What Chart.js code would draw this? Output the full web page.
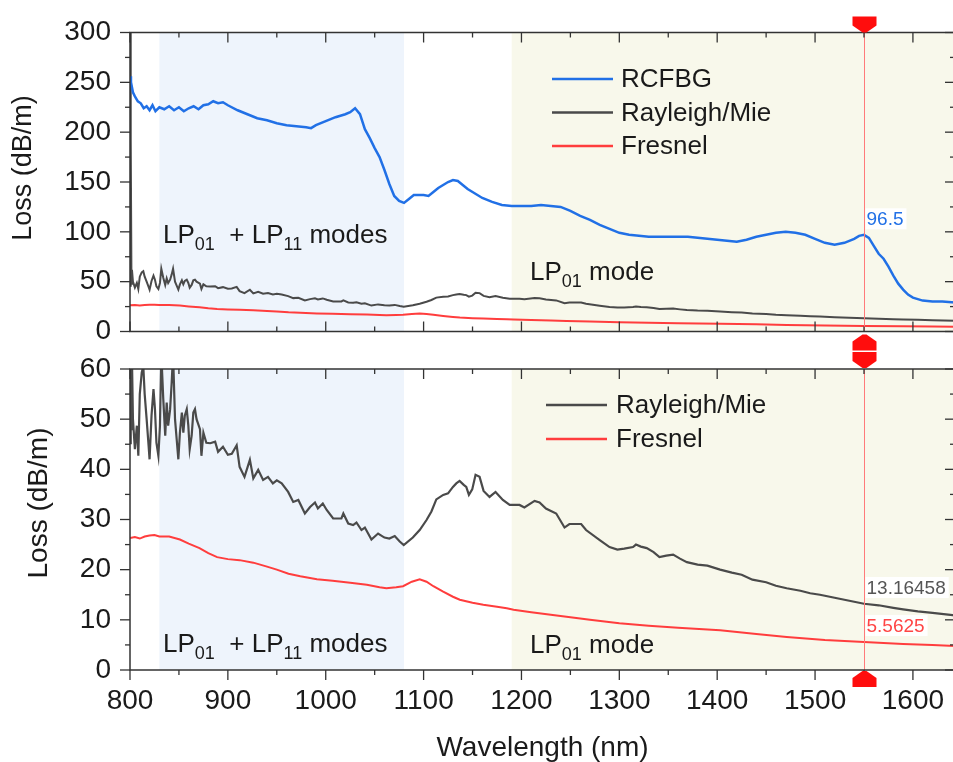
<!DOCTYPE html>
<html>
<head>
<meta charset="utf-8">
<script src="https://cdn.jsdelivr.net/npm/chart.js@4.4.1/dist/chart.umd.min.js"></script>
<style>
  html, body { margin: 0; padding: 0; background: #fff; width: 953px; height: 762px; overflow: hidden; }
  .panel { position: absolute; left: 0; width: 960px; }
  #topPanel { top: 0; height: 352px; }
  #bottomPanel { top: 345px; height: 417px; }
</style>
</head>
<body>
<div class="panel" id="topPanel"><canvas id="lossTop"></canvas></div>
<div class="panel" id="bottomPanel"><canvas id="lossBottom"></canvas></div>
<script>
// --- data ---
const xMin = 800, xMax = 1643;
const cursorNm = 1550;
const shadeFrom = [830, 1190];
const shadeTo = [1080, 1643];
const readoutLoss = [96.5, 13.16458, 5.5625];

const rcfbgNm = [800, 801, 803, 805, 808, 811, 814, 817, 820, 823,
  826, 830, 835, 840, 845, 850, 855, 860, 865, 870,
  875, 880, 885, 890, 895, 900, 910, 920, 930, 940,
  950, 960, 970, 980, 985, 990, 1000, 1010, 1020, 1025,
  1030, 1035, 1040, 1045, 1050, 1055, 1060, 1065, 1070, 1075,
  1080, 1085, 1090, 1095, 1100, 1105, 1110, 1115, 1120, 1125,
  1130, 1135, 1140, 1145, 1150, 1160, 1170, 1180, 1190, 1200,
  1210, 1220, 1230, 1240, 1250, 1260, 1270, 1280, 1290, 1300,
  1310, 1320, 1330, 1340, 1350, 1360, 1370, 1380, 1390, 1400,
  1410, 1420, 1430, 1440, 1450, 1460, 1470, 1480, 1490, 1500,
  1510, 1520, 1530, 1540, 1545, 1550, 1555, 1560, 1565, 1570,
  1575, 1580, 1585, 1590, 1595, 1600, 1610, 1620, 1630, 1643];
const rcfbgLoss = [256, 250, 240, 236, 231, 229, 224, 226, 222, 227,
  221, 225, 223, 226, 222, 225, 221, 224, 226, 223,
  227, 228, 231, 229, 230, 227, 222, 218, 214, 212,
  209, 207, 206, 205, 204, 207, 211, 215, 218, 220,
  224, 218, 203, 194, 184, 175, 162, 148, 136, 131,
  129, 133, 137, 137, 137, 136, 140, 144, 147, 150,
  152, 151, 147, 143, 140, 134, 130, 127, 126, 126,
  126, 127, 126, 125, 121, 116, 112, 107, 103, 99,
  97, 96, 95, 95, 95, 95, 95, 94, 93, 92,
  91, 90, 92, 95, 97, 99, 100, 99, 97, 93,
  89, 87, 89, 93, 96, 97, 94, 86, 78, 73,
  65, 56, 48, 42, 37, 34, 31, 30, 30, 29];

const rayleighNm = [800, 800.5, 801, 801.5, 802, 803, 805, 807, 808.5, 810,
  812, 813.6, 815, 817, 819, 820, 822, 824, 825.5, 827,
  829, 830.6, 832, 834, 836, 837.5, 839, 841, 842.6, 844,
  846, 847.7, 849.4, 851, 853, 854.5, 856, 858, 859.6, 861,
  863, 864.7, 866.4, 868, 871.5, 873, 875, 878, 882, 887,
  890, 895, 900, 904, 909, 912, 917, 922.5, 926, 931,
  936, 941, 946, 950, 955, 961.6, 966.8, 972, 978.7, 984,
  989, 992, 997, 1001, 1007.6, 1016, 1018, 1023, 1028, 1031.4,
  1036.5, 1040, 1046.7, 1053.5, 1060, 1065, 1070.5, 1075.6, 1079.7, 1089,
  1096, 1103, 1108, 1113, 1120, 1125, 1130, 1133.4, 1136.8, 1141,
  1143.6, 1146.3, 1149.7, 1153.1, 1157.2, 1161.3, 1167.4, 1173.5, 1181, 1188,
  1198, 1203, 1213.4, 1218.5, 1225, 1235.5, 1244, 1249, 1261, 1266,
  1280, 1290, 1298, 1305, 1314, 1317, 1322, 1328, 1335, 1341,
  1348, 1355, 1362, 1369, 1380, 1390, 1403, 1415, 1425, 1436,
  1450, 1460, 1471, 1485, 1495, 1505, 1520, 1535, 1550, 1565,
  1580, 1590, 1605, 1620, 1643];
const rayleighLoss = [320, 45, 192, 48, 62, 50, 44, 48.7, 42.7, 55,
  59.3, 60.5, 55, 50, 44.7, 42, 50.7, 56, 52, 45.3,
  42.7, 48.7, 63, 54, 46.7, 53.3, 48.7, 52, 57.3, 63,
  50, 46, 42, 47.3, 51.3, 47.3, 50.7, 52, 48.7, 44,
  46.7, 51.3, 52, 50, 48, 42.7, 47.3, 45.3, 45.2, 45.5,
  43.5, 44.5, 42.9, 43.1, 44.8, 40.5, 38.5, 41.9, 38.2, 39.9,
  37.9, 38.5, 37.2, 37.8, 37.2, 35.5, 33.5, 33.9, 31.2, 32.5,
  33.4, 32.2, 33.2, 31.9, 30.2, 30.2, 31.2, 29.2, 28.9, 29.4,
  27.9, 28.4, 26.0, 27.2, 26.4, 26.2, 26.7, 25.6, 24.9, 26.4,
  27.9, 29.9, 31.6, 34.0, 34.9, 35.2, 36.5, 37.2, 37.7, 36.9,
  36.5, 34.9, 36.0, 38.9, 38.5, 35.7, 34.5, 35.5, 33.9, 32.9,
  32.9, 32.4, 33.7, 33.4, 32.2, 31.2, 28.4, 29.1, 29.1, 27.9,
  25.9, 24.5, 24.0, 24.2, 24.5, 25, 24.6, 24.3, 23.5, 22.5,
  22.8, 23, 22.2, 21.5, 21, 20.8, 20, 19.4, 19, 18,
  17.5, 16.8, 16.3, 15.8, 15.3, 15, 14.4, 13.8, 13.2, 12.9,
  12.4, 12.1, 11.7, 11.4, 10.9];

const fresnelNm = [800, 805, 810, 815, 820, 825, 830, 840, 851, 860,
  871, 880, 889, 900, 912, 926, 940, 950, 962, 974,
  991, 1007, 1025, 1042, 1055, 1062, 1072, 1079, 1088, 1096,
  1103, 1110, 1120, 1130, 1137, 1150, 1161, 1175, 1185, 1192,
  1210, 1230, 1246, 1270, 1300, 1330, 1360, 1403, 1440, 1471,
  1510, 1550, 1590, 1620, 1643];
const fresnelLoss = [26.3, 26.5, 26.2, 26.6, 26.8, 26.9, 26.6, 26.6, 26, 25.2,
  24.3, 23.3, 22.5, 22.1, 21.9, 21.4, 20.6, 20, 19.2, 18.7,
  18.1, 17.8, 17.4, 17, 16.5, 16.3, 16.5, 16.7, 17.6, 18.1,
  17.6, 16.7, 15.6, 14.6, 14, 13.4, 13, 12.6, 12.3, 12,
  11.5, 11, 10.6, 10, 9.3, 8.8, 8.4, 7.9, 7.2, 6.6,
  6, 5.56, 5.2, 5, 4.8];

// --- styling ---
const FONT = '"Liberation Sans", Arial, sans-serif';
const INK = '#1a1a1a';
const AXIS = '#333333';
const BLUE = '#2170e6';
const GRAY = '#4a4a4a';
const RED = '#ff3d3d';
const shadeColors = ['#eef4fc', '#f8f8eb'];

Chart.defaults.font.family = FONT;
Chart.defaults.color = INK;

const pts = (xs, ys) => xs.map((x, i) => ({x: x, y: ys[i]}));
const line = (label, xs, ys, color, w) => ({
  label: label, data: pts(xs, ys), borderColor: color, backgroundColor: color,
  borderWidth: w, pointRadius: 0, tension: 0, fill: false
});

function drawMarker(ctx, cx, tipY, pointDown) {
  const s = pointDown ? -1 : 1;
  ctx.beginPath();
  ctx.moveTo(cx - 2, tipY);
  ctx.lineTo(cx + 2, tipY);
  ctx.lineTo(cx + 12, tipY + s * 7);
  ctx.lineTo(cx + 12, tipY + s * 16);
  ctx.lineTo(cx - 12, tipY + s * 16);
  ctx.lineTo(cx - 12, tipY + s * 7);
  ctx.closePath();
  ctx.fill();
}

function drawNote(ctx, note) {
  let x = note.x;
  ctx.textAlign = 'left';
  ctx.textBaseline = 'alphabetic';
  ctx.fillStyle = INK;
  note.parts.forEach(p => {
    const sub = p[1];
    ctx.font = (sub ? '18px ' : '26px ') + FONT;
    ctx.fillText(p[0], x, note.y + (sub ? 7 : 0));
    x += ctx.measureText(p[0]).width;
  });
}

function tickSide(ctx, scale, a, edge, dir, minor, major) {
  const start = Math.ceil(scale.min / minor) * minor;
  for (let v = start; v <= scale.max + 1e-6; v += minor) {
    const len = (Math.abs(v % major) < 1e-6) ? 10 : 5;
    const p = scale.getPixelForValue(v);
    ctx.beginPath();
    if (edge === 'top' || edge === 'bottom') {
      const y0 = edge === 'top' ? a.top : a.bottom;
      const sgn = (edge === 'top') === (dir === 'in') ? 1 : -1;
      ctx.moveTo(p, y0); ctx.lineTo(p, y0 + sgn * len);
    } else {
      const x0 = edge === 'left' ? a.left : a.right;
      const sgn = (edge === 'left') === (dir === 'in') ? 1 : -1;
      ctx.moveTo(x0, p); ctx.lineTo(x0 + sgn * len, p);
    }
    ctx.stroke();
  }
}

const panelPlugin = {
  id: 'panel',
  beforeDatasetsDraw(chart, args, o) {
    const {ctx, chartArea: a, scales: {x}} = chart;
    ctx.save();
    shadeFrom.forEach((from, i) => {
      const l = Math.max(a.left, x.getPixelForValue(from));
      const r = Math.min(a.right, x.getPixelForValue(shadeTo[i]));
      ctx.fillStyle = shadeColors[i];
      ctx.fillRect(l, a.top, r - l, a.bottom - a.top);
    });
    ctx.restore();
  },
  afterDatasetsDraw(chart, args, o) {
    const {ctx, chartArea: a, scales: {x, y}} = chart;
    ctx.save();
    const cx = Math.round(x.getPixelForValue(cursorNm)) + 0.5;

    // cursor line
    ctx.strokeStyle = '#ff7a7a';
    ctx.lineWidth = 1;
    ctx.beginPath(); ctx.moveTo(cx, a.top); ctx.lineTo(cx, a.bottom); ctx.stroke();

    // frame and ticks
    ctx.strokeStyle = AXIS;
    ctx.lineWidth = 1.5;
    ctx.strokeRect(a.left, a.top, a.right - a.left, a.bottom - a.top);
    ctx.lineWidth = 1.3;
    tickSide(ctx, x, a, 'top', 'in', 50, 100);
    tickSide(ctx, x, a, 'bottom', o.bottomTicks, 50, 100);
    tickSide(ctx, y, a, 'left', 'out', o.yMinor, o.yMinor * 2);
    tickSide(ctx, y, a, 'right', 'in', o.yMinor, o.yMinor * 2);

    // cursor read-outs
    ctx.font = '19px ' + FONT;
    ctx.textAlign = 'left';
    ctx.textBaseline = 'alphabetic';
    o.readouts.forEach(r => {
      const txt = String(r.value);
      const by = y.getPixelForValue(r.value) - 10;
      const w = ctx.measureText(txt).width;
      ctx.fillStyle = '#ffffff';
      ctx.fillRect(cx + 1, by - 17, w + 4, 21);
      ctx.fillStyle = r.color;
      ctx.fillText(txt, cx + 2, by);
    });

    // legend inside the plot
    const lg = o.legend;
    ctx.font = '26px ' + FONT;
    ctx.textBaseline = 'middle';
    chart.data.datasets.forEach((ds, i) => {
      const ly = lg.y + i * lg.dy;
      ctx.strokeStyle = ds.borderColor;
      ctx.lineWidth = 2.5;
      ctx.beginPath(); ctx.moveTo(lg.x1, ly); ctx.lineTo(lg.x2, ly); ctx.stroke();
      ctx.fillStyle = INK;
      ctx.fillText(ds.label, lg.tx, ly + 1);
    });

    // mode notes
    o.notes.forEach(n => drawNote(ctx, n));

    // y title
    ctx.save();
    ctx.translate(o.yTitle.x, o.yTitle.y);
    ctx.rotate(-Math.PI / 2);
    ctx.font = o.yTitle.size + 'px ' + FONT;
    ctx.textAlign = 'center';
    ctx.textBaseline = 'middle';
    ctx.fillStyle = INK;
    ctx.fillText('Loss (dB/m)', 0, 0);
    ctx.restore();

    // cursor markers
    ctx.fillStyle = '#ff0d0d';
    drawMarker(ctx, cx, a.top + o.markerGap[0], true);
    drawMarker(ctx, cx, a.bottom + o.markerGap[1], false);
    ctx.restore();
  }
};

function makePanel(id, cfg) {
  return new Chart(document.getElementById(id), {
    type: 'line',
    data: {datasets: cfg.datasets},
    options: {
      responsive: true,
      maintainAspectRatio: false,
      animation: false,
      events: [],
      layout: {padding: cfg.padding},
      plugins: {legend: {display: false}, tooltip: {enabled: false}, panel: cfg.panel},
      scales: {
        x: {
          type: 'linear', min: xMin, max: xMax,
          afterFit: s => { s.height = cfg.xHeight; s.paddingLeft = 0; s.paddingRight = 0; },
          grid: {display: false, drawTicks: false},
          border: {display: false},
          ticks: {display: cfg.xLabels, stepSize: 100, includeBounds: false, autoSkip: false,
                  maxRotation: 0, padding: 14, font: {size: 28}, color: INK,
                  callback: v => String(v)},
          title: {display: cfg.xLabels, text: 'Wavelength (nm)', color: INK,
                  font: {size: 28, lineHeight: 1}, padding: 0}
        },
        y: {
          min: cfg.yMin, max: cfg.yMax,
          afterFit: s => { s.width = 130; s.paddingTop = 0; s.paddingBottom = 0; },
          grid: {display: false, drawTicks: false},
          border: {display: false},
          ticks: {stepSize: cfg.yStep, padding: 19, font: {size: 28}, color: INK,
                  callback: v => String(v)}
        }
      }
    },
    plugins: [panelPlugin]
  });
}

makePanel('lossTop', {
  datasets: [
    line('RCFBG', rcfbgNm, rcfbgLoss, BLUE, 2.5),
    line('Rayleigh/Mie', rayleighNm, rayleighLoss, GRAY, 2),
    line('Fresnel', fresnelNm, fresnelLoss, RED, 2)
  ],
  padding: {left: 0, top: 32.5, right: 5, bottom: 0},
  xHeight: 20.5, xLabels: false,
  yMin: 0, yMax: 300, yStep: 50,
  panel: {
    bottomTicks: 'in', yMinor: 25,
    readouts: [{value: readoutLoss[0], color: BLUE}],
    legend: {x1: 552, x2: 613, tx: 621, y: 79, dy: 33.5},
    notes: [
      {x: 163, y: 243, parts: [['LP'], ['01', 1], ['  + LP'], ['11', 1], [' modes']]},
      {x: 530, y: 280, parts: [['LP'], ['01', 1], [' mode']]}
    ],
    yTitle: {x: 24, y: 168, size: 27},
    markerGap: [0, 3]
  }
});

makePanel('lossBottom', {
  datasets: [
    line('Rayleigh/Mie', rayleighNm, rayleighLoss, GRAY, 2.2),
    line('Fresnel', fresnelNm, fresnelLoss, RED, 2)
  ],
  padding: {left: 0, top: 24, right: 5, bottom: 0},
  xHeight: 92, xLabels: true,
  yMin: 0, yMax: 60, yStep: 10,
  panel: {
    bottomTicks: 'out', yMinor: 5,
    readouts: [{value: readoutLoss[1], color: '#555555'}, {value: readoutLoss[2], color: '#ff4545'}],
    legend: {x1: 546, x2: 607, tx: 616, y: 60, dy: 34},
    notes: [
      {x: 163, y: 307, parts: [['LP'], ['01', 1], ['  + LP'], ['11', 1], [' modes']]},
      {x: 530, y: 308, parts: [['LP'], ['01', 1], [' mode']]}
    ],
    yTitle: {x: 39, y: 158, size: 28},
    markerGap: [-1, 1]
  }
});
</script>
</body>
</html>
